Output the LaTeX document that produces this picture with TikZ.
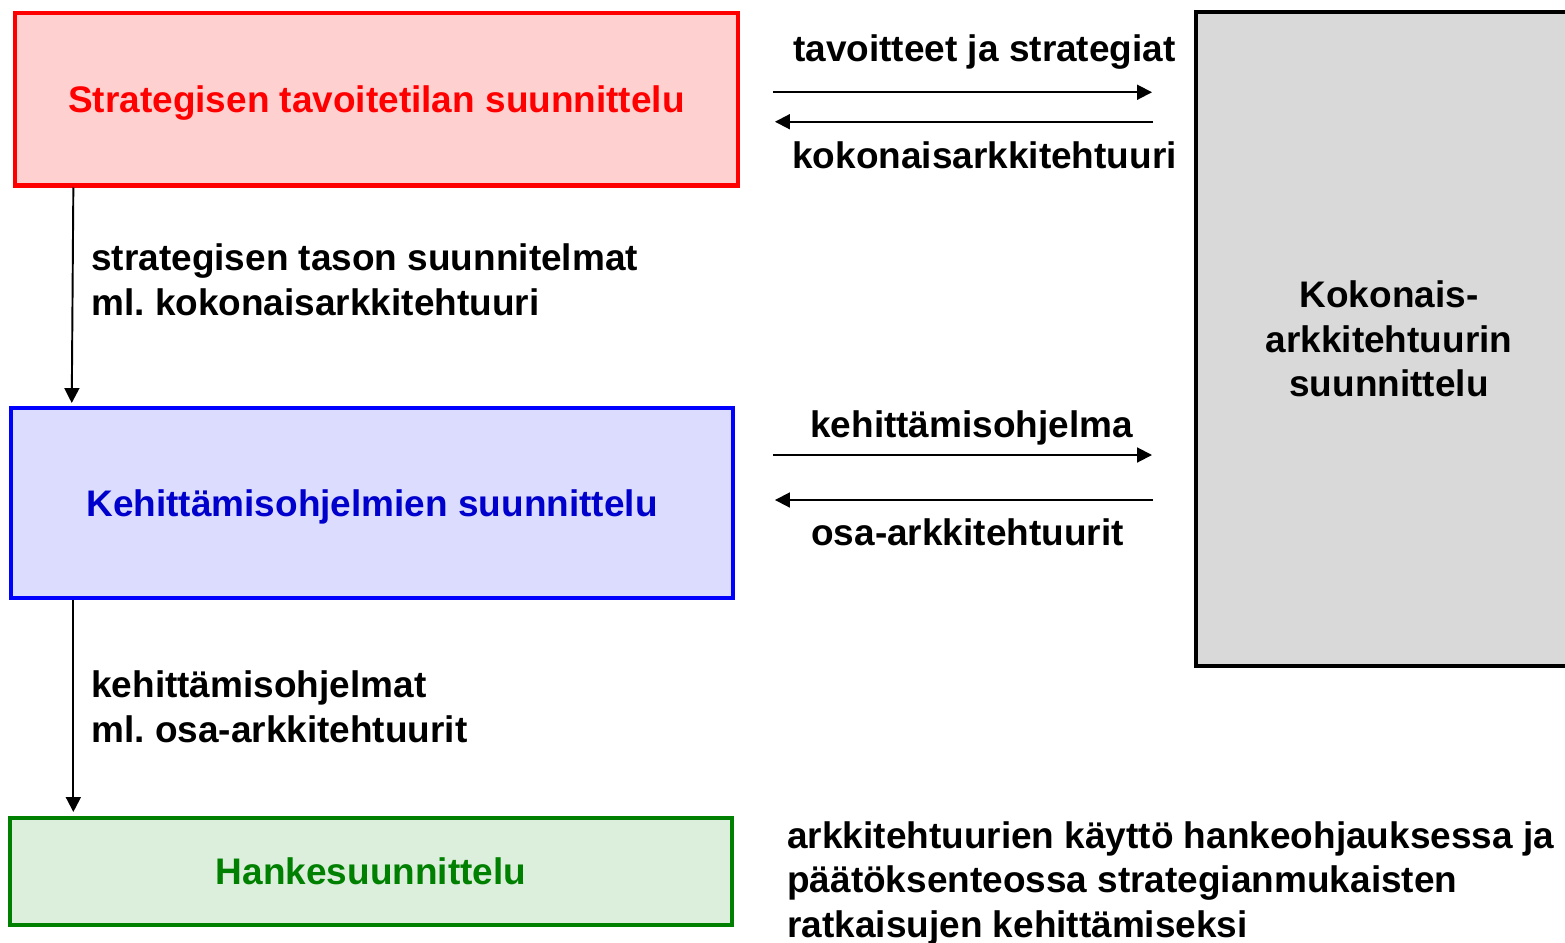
\documentclass[tikz,border=0pt]{standalone}
\usepackage{fontspec}
\setmainfont{Liberation Sans}
\usetikzlibrary{arrows.meta,calc}
\frenchspacing

\definecolor{redfill}{RGB}{255,208,208}
\definecolor{bluefill}{RGB}{220,220,255}
\definecolor{greenfill}{RGB}{220,238,220}
\definecolor{grayfill}{RGB}{217,217,217}
\definecolor{darkgreen}{RGB}{0,128,0}
\definecolor{darkblue}{RGB}{0,0,204}

\begin{document}
\begin{tikzpicture}[x=0.02cm,y=-0.02cm,
    every node/.style={font=\fontsize{21.05}{25.3}\selectfont\bfseries},
    main node/.style={rectangle,draw,line width=2.3pt,align=center,text depth=0pt},
    label text/.style={anchor=base west,align=left,inner sep=0pt},
    flow/.style={-{Triangle[length=8.5pt,width=8.5pt]},line width=1.1pt}]
    \useasboundingbox (0,0) rectangle (1565,943);

    \node[main node,draw=red,fill=redfill,text=red,minimum width=14.46cm,minimum height=3.45cm] (strat) at (376.5,99.25) {Strategisen tavoitetilan suunnittelu};
    \node[main node,draw=blue,fill=bluefill,text=darkblue,minimum width=14.44cm,minimum height=3.81cm] (kehit) at (372,502.75) {Kehittämisohjelmien suunnittelu};
    \node[main node,draw=darkgreen,fill=greenfill,text=darkgreen,minimum width=14.44cm,minimum height=2.14cm] (hanke) at (371,871.5) {Hankesuunnittelu};
    \node[main node,draw=black,fill=grayfill,minimum width=7.72cm,minimum height=13.08cm] (koko) at (1389,339) {Kokonais-\\arkkitehtuurin\\suunnittelu};

    % labels (base = last line)
    \node[label text] (tavo) at (793,61) {tavoitteet ja strategiat};
    \node[label text] (kokar) at (792,168) {kokonaisarkkitehtuuri};
    \node[label text] (kohj) at (810,437) {kehittämisohjelma};
    \node[label text] (osar) at (811,545) {osa-arkkitehtuurit};
    \node[label text] (sttas) at (91,315) {strategisen tason suunnitelmat\\ml. kokonaisarkkitehtuuri};
    \node[label text] (kohjt) at (91,742) {kehittämisohjelmat\\ml. osa-arkkitehtuurit};
    \node[label text] (kaytto) at (787,937) {arkkitehtuurien käyttö hankeohjauksessa ja\\päätöksenteossa strategianmukaisten\\ratkaisujen kehittämiseksi};

    % vertical flow
    \draw[flow] ($(strat.south west)+(60.3,0)$) -- ($(kehit.north west)+(62.7,-2.5)$);
    \draw[flow] ($(kehit.south west)+(64.3,0)$) -- ($(hanke.north west)+(65.3,-4)$);

    % exchange with the architecture box
    \coordinate (s1) at ($(strat.east)+(33,-7)$);
    \coordinate (s2) at ($(strat.east)+(35,22.5)$);
    \coordinate (k1) at ($(kehit.east)+(38,-47.75)$);
    \coordinate (k2) at ($(kehit.east)+(40,-2.75)$);
    \draw[flow] (s1) -- ($(s1 -| koko.west)+(-42,0)$);
    \draw[flow] ($(s2 -| koko.west)+(-41,0)$) -- (s2);
    \draw[flow] (k1) -- ($(k1 -| koko.west)+(-42,0)$);
    \draw[flow] ($(k2 -| koko.west)+(-41,0)$) -- (k2);
\end{tikzpicture}
\end{document}
